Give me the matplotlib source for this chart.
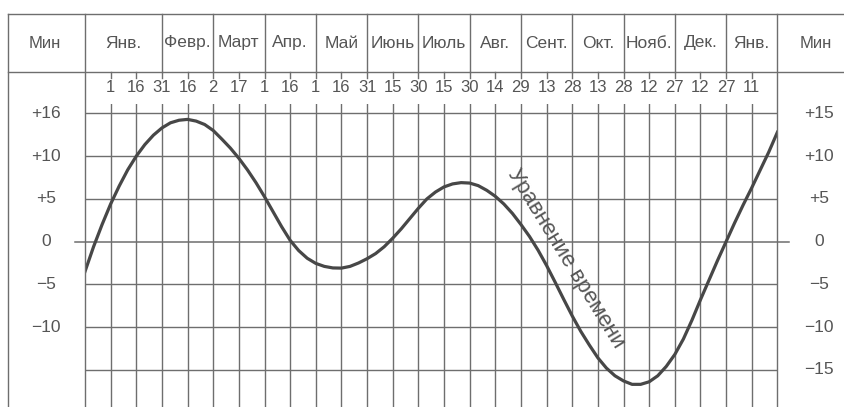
import numpy as np
import matplotlib
matplotlib.use("Agg")
import matplotlib.pyplot as plt
from matplotlib.lines import Line2D
from matplotlib import transforms

plt.rcParams['font.family'] = ['Liberation Sans', 'DejaVu Sans']

# days counted from Jan 1 (day 0), every 5 days; minutes
days = list(range(-15, 391, 5))
minutes = [-3.5, -0.6, 2.0, 4.4, 6.5, 8.4, 10.0, 11.35, 12.45, 13.3, 13.9,
           14.2, 14.3, 14.1, 13.7, 13.0, 12.0, 10.95, 9.75, 8.4, 6.9, 5.25,
           3.5, 1.75, 0.15, -1.05, -1.95, -2.55, -2.9, -3.08, -3.1, -2.9,
           -2.5, -2.0, -1.4, -0.6, 0.4, 1.5, 2.7, 3.9, 5.0, 5.8, 6.4, 6.75,
           6.9, 6.85, 6.55, 6.0, 5.3, 4.4, 3.3, 2.0, 0.6, -1.0, -2.8, -4.75,
           -6.75, -8.7, -10.5, -12.1, -13.6, -14.8, -15.7, -16.3, -16.7,
           -16.7, -16.4, -15.7, -14.6, -13.2, -11.4, -9.2, -6.8, -4.5, -2.2,
           0.0, 2.2, 4.3, 6.3, 8.4, 10.5, 12.8]

months = ['Янв.', 'Февр.', 'Март', 'Апр.', 'Май', 'Июнь', 'Июль', 'Авг.',
          'Сент.', 'Окт.', 'Нояб.', 'Дек.', 'Янв.']
day_labels = ['1', '16', '31', '16', '2', '17', '1', '16', '1', '16', '31', '15',
              '30', '15', '30', '14', '29', '13', '28', '13', '28', '12', '27',
              '12', '27', '11']
left_vals = [15, 10, 5, 0, -5, -10]
left_labels = ['+16', '+10', '+5', '0', '−5', '−10']
right_vals = [15, 10, 5, 0, -5, -10, -15]
right_labels = ['+15', '+10', '+5', '0', '−5', '−10', '−15']
curve_label = 'Уравнение времени'

W, H = 845, 407
grid_c = '#6e6e6e'
text_c = '#555555'
line_c = '#474747'


def fx(px):
    return px / W


def fy(py):
    return 1 - py / H


fig = plt.figure(figsize=(W / 100, H / 100), dpi=100)
fig.patch.set_facecolor('white')
ax = fig.add_axes([fx(85), 0, fx(777.4) - fx(85), fy(104)])
ax.set_xlim(-15, 390)
ax.set_ylim(-19.35, 16.1)
ax.axis('off')

ticks = np.arange(len(day_labels)) * 15

for t in ticks:
    ax.axvline(t, color=grid_c, lw=1.0, zorder=1)
for v in right_vals:
    if v != 0:
        ax.axhline(v, color=grid_c, lw=1.0, zorder=1)
ax.plot([-21, 397], [0, 0], color=grid_c, lw=1.1, clip_on=False, zorder=1)

ax.plot(days, minutes, color=line_c, lw=2.3, zorder=3)

ax.text(266, -2.0, curve_label, rotation=-58.5, rotation_mode='anchor',
        ha='center', va='center', fontsize=16, color=text_c, zorder=4)

# table frame
def fline(x0, y0, x1, y1, **kw):
    fig.add_artist(Line2D([fx(x0), fx(x1)], [fy(y0), fy(y1)],
                          transform=fig.transFigure, color=grid_c, lw=1.0, **kw))


fline(8, 14, W, 14)
fline(8, 72, W, 72)
fline(8, 14, 8, H)
fline(85, 14, 85, H)
fline(777.4, 14, 777.4, H)

bx = transforms.blended_transform_factory(ax.transData, fig.transFigure)
by = transforms.blended_transform_factory(fig.transFigure, ax.transData)

# month dividers and labels in the header
edges = [-15] + list(ticks[2::2]) + [390]
for e in edges[1:-1]:
    fig.add_artist(Line2D([e, e], [fy(14), fy(72)], transform=bx,
                          color=grid_c, lw=1.0))
for name, a, b in zip(months, edges[:-1], edges[1:]):
    fig.text((a + b) / 2, fy(43), name, transform=bx, ha='center',
             va='center', fontsize=12.5, color=text_c)

# day row: small ticks and numbers
for t, lab in zip(ticks, day_labels):
    fig.add_artist(Line2D([t, t], [fy(72), fy(78)], transform=bx,
                          color=grid_c, lw=1.0))
    fig.text(t, fy(88), lab, transform=bx, ha='center', va='center',
             fontsize=12, color=text_c)

fig.text(fx(45), fy(43), 'Мин', ha='center', va='center', fontsize=12,
         color=text_c)
fig.text(fx(816), fy(43), 'Мин', ha='center', va='center', fontsize=12,
         color=text_c)

for v, lab in zip(left_vals, left_labels):
    fig.text(fx(46), v, lab, transform=by, ha='center', va='center',
             fontsize=12.5, color=text_c)
for v, lab in zip(right_vals, right_labels):
    fig.text(fx(819), v, lab, transform=by, ha='center', va='center',
             fontsize=12.5, color=text_c)

fig.savefig('out.png', dpi=100)
